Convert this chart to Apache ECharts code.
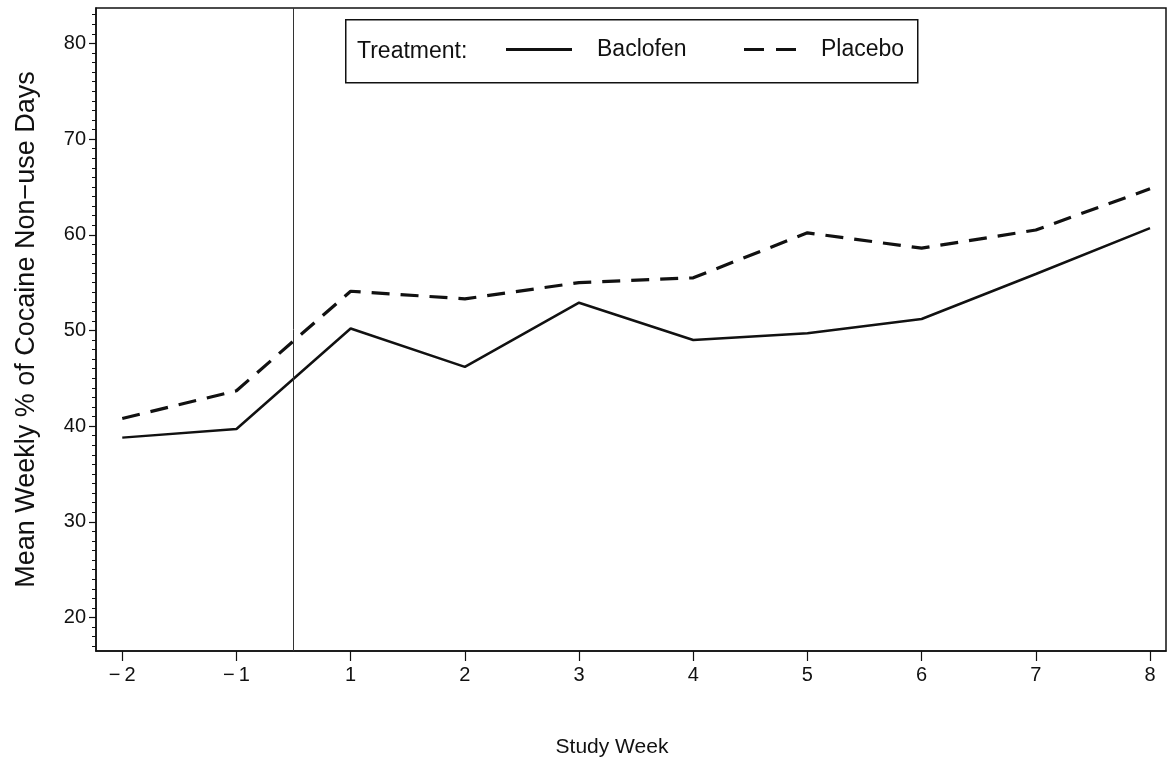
<!DOCTYPE html>
<html>
<head>
<meta charset="utf-8">
<script src="https://cdn.jsdelivr.net/npm/echarts@6/dist/echarts.min.js"></script>
<style>
html,body{margin:0;padding:0;background:#fff;}
#chart{width:1172px;height:764px;}
</style>
</head>
<body>
<div id="chart"></div>
<script>
// ---- data ----
var weeks = ['\u2212\u20092', '\u2212\u20091', '1', '2', '3', '4', '5', '6', '7', '8'];
var baclofen = [38.8, 39.7, 50.2, 46.2, 52.9, 49.0, 49.7, 51.2, 55.9, 60.7];
var placebo  = [40.8, 43.7, 54.1, 53.3, 55.0, 55.5, 60.2, 58.6, 60.5, 64.8];
var yTickValues = [20, 30, 40, 50, 60, 70, 80];
var yMinorValues = [17, 18, 19, 21, 22, 23, 24, 25, 26, 27, 28, 29, 31, 32, 33, 34, 35, 36, 37, 38, 39,
  41, 42, 43, 44, 45, 46, 47, 48, 49, 51, 52, 53, 54, 55, 56, 57, 58, 59,
  61, 62, 63, 64, 65, 66, 67, 68, 69, 71, 72, 73, 74, 75, 76, 77, 78, 79, 81, 82, 83];
var treatmentStart = 1.5; // between week -1 and week 1

var idx = weeks.map(function (_, i) { return i; });
function pairs(arr) { return arr.map(function (y, i) { return [i, y]; }); }

var FONT = 'Liberation Sans, Arial, Helvetica, sans-serif';
var INK = '#111111';

var chart = echarts.init(document.getElementById('chart'), null, {renderer: 'canvas'});
var legendText = {color: INK, fontFamily: FONT, fontSize: 23, padding: [5, 0, 0, 20]};
var option = {
  backgroundColor: '#ffffff',
  animation: false,
  grid: {left: 96, right: 6, top: 8, bottom: 113, show: true, borderColor: INK, borderWidth: 1.5, backgroundColor: 'transparent'},
  xAxis: {
    type: 'value', min: -0.23, max: 9.14,
    axisLine: {show: true, onZero: false, lineStyle: {color: INK, width: 1.5}},
    axisTick: {show: true, inside: false, length: 10, customValues: idx, lineStyle: {color: INK, width: 1.2}},
    axisLabel: {show: true, customValues: idx, margin: 14, color: INK, fontFamily: FONT, fontSize: 20,
      formatter: function (val) { return weeks[Math.round(val)]; }},
    splitLine: {show: false},
    name: 'Study Week', nameLocation: 'middle', nameGap: 86,
    nameTextStyle: {color: INK, fontFamily: FONT, fontSize: 21, padding: [0, 38, 0, 0]}
  },
  yAxis: [{
    type: 'value', min: 16.5, max: 83.7,
    axisLine: {show: true, onZero: false, lineStyle: {color: INK, width: 1.5}},
    axisTick: {show: true, inside: false, length: 7, customValues: yTickValues, lineStyle: {color: INK, width: 1.2}},
    axisLabel: {show: true, customValues: yTickValues, margin: 10, color: INK, fontFamily: FONT, fontSize: 20},
    splitLine: {show: false},
    name: 'Mean Weekly % of Cocaine Non\u2212use Days', nameLocation: 'middle', nameGap: 56, nameRotate: 90,
    nameTextStyle: {color: INK, fontFamily: FONT, fontSize: 27}
  }, {
    type: 'value', min: 16.5, max: 83.7, position: 'left',
    axisLine: {show: false, onZero: false},
    axisTick: {show: true, inside: false, length: 4, customValues: yMinorValues, lineStyle: {color: INK, width: 1}},
    axisLabel: {show: false},
    splitLine: {show: false}
  }],
  legend: [{
    show: true, left: 506, top: 38, orient: 'horizontal', padding: 0,
    itemWidth: 66, itemHeight: 3,
    textStyle: legendText,
    data: [{name: 'Baclofen', icon: 'path://M0,0 H66 V3 H0 Z', itemStyle: {color: INK}}]
  }, {
    show: true, left: 744, top: 38, orient: 'horizontal', padding: 0,
    itemWidth: 52, itemHeight: 3,
    textStyle: legendText,
    data: [{name: 'Placebo', icon: 'path://M0,0 H20 V3 H0 Z M32,0 H52 V3 H32 Z', itemStyle: {color: INK}}]
  }],
  graphic: [
    {type: 'rect', left: 345, top: 19, shape: {width: 572, height: 63}, style: {fill: 'transparent', stroke: INK, lineWidth: 1.5}, z: 10},
    {type: 'text', left: 357, top: 40, style: {text: 'Treatment:', fill: INK, font: '23px ' + FONT}, z: 10}
  ],
  series: [
    {
      name: 'Baclofen', type: 'line', data: pairs(baclofen),
      symbol: 'none', lineStyle: {color: INK, width: 2.5, type: 'solid'},
      itemStyle: {color: INK},
      markLine: {
        silent: true, symbol: ['none', 'none'], label: {show: false},
        lineStyle: {color: '#333', width: 1, type: 'solid'},
        data: [{xAxis: treatmentStart}]
      }
    },
    {
      name: 'Placebo', type: 'line', data: pairs(placebo),
      symbol: 'none', lineStyle: {color: INK, width: 3.2, type: [18, 11]},
      itemStyle: {color: INK}
    }
  ]
};
chart.setOption(option);
</script>
</body>
</html>
